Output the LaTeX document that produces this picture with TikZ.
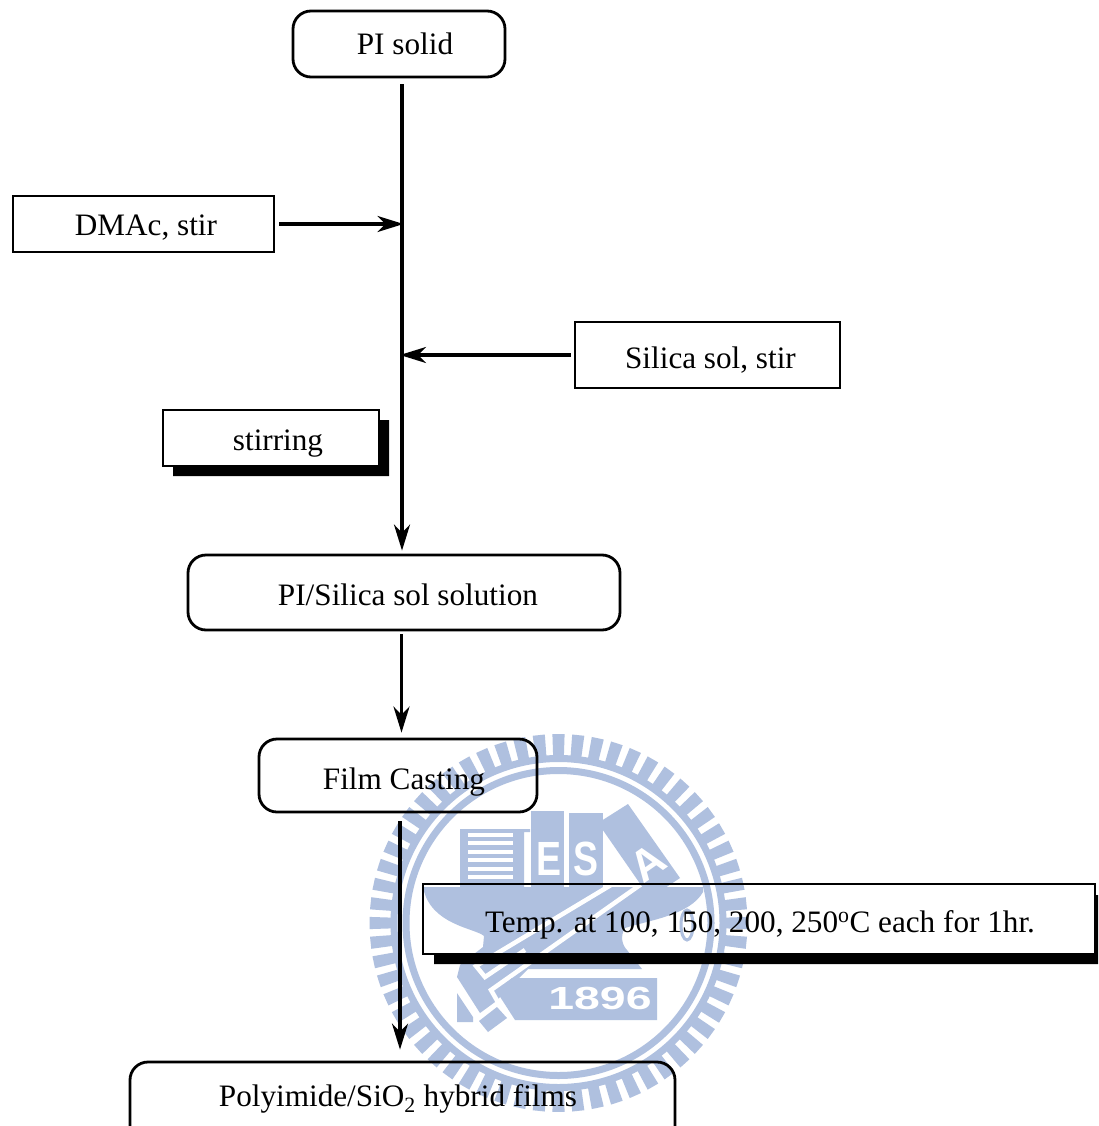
\documentclass[tikz,border=0pt]{standalone}
\usepackage{fontspec}
\setmainfont{Liberation Serif}
\newfontfamily\logofont{Liberation Sans}
\usetikzlibrary{arrows.meta,calc}
\definecolor{logoblue}{RGB}{175,192,223}
\tikzset{
  sqbox/.style={draw=black,line width=2.8pt,fill=none,inner sep=0pt,font=\fontsize{31.2}{36}\selectfont},
  rdbox/.style={sqbox,rounded corners=18pt},
  drop/.style={text height=2*#1 pt,text depth=0pt},
  flow/.style={draw=black,line width=3.1pt,-{Stealth[length=26pt,width=16pt,inset=8pt]}},
  logotext/.style={text=white,font=\logofont\bfseries,inner sep=0pt},
}
\begin{document}
\begin{tikzpicture}[x=1pt,y=-1pt]
\clip (0,0) rectangle (1098,1126);
\fill[white] (0,0) rectangle (1098,1126);
% watermark
\begin{scope}[logoblue]
 \begin{scope}[shift={(558.5,923)}]
  \foreach \a in {0,6,...,354}{
   \fill (\a-1.85:166) -- (\a-1.85:189) -- (\a+1.85:189) -- (\a+1.85:166) -- cycle;
  }
  \draw[line width=7pt] (0,0) circle [radius=164.5];
  \draw[line width=7pt] (0,0) circle [radius=152.5];
 \end{scope}
 % anvil and hammer
 \fill (423,887) -- (703,887) -- (703,892) .. controls (690,915) and (650,920) .. (625,928)
   .. controls (620,936) and (622,945) .. (627,950) -- (642,969) -- (528,969) -- (495,1002) -- (480,1013)
   -- (457,977) -- (460,965) -- (483,947) -- (484,936)
   .. controls (475,928) and (430,925) .. (423,887) -- cycle;
 \draw[white,line width=4.5pt] (611,885) -- (476,966) -- (485,977) -- (525,950);
 \draw[white,line width=4.5pt] (640,885) -- (491,990) -- (499,1004);
 % books
 \fill (460,829) -- (530,829) -- (530,832) -- (524,832) -- (524,887) -- (460,887) -- cycle;
 \fill (531,811) rectangle (564,887);
 \fill (569,813) rectangle (603,887);
 \fill (628,804) -- (680,878) -- (650,898) -- (598,823) -- cycle;
 \foreach \yy in {833,841,850,858,867,875}{
  \fill[white] (468,\yy) rectangle (513,\yy+4);
 }
 % banner and block
 \fill (512,978) -- (657,978) -- (657,1020) -- (515,1020) -- (497,992) -- cycle;
 \fill (479,1021) -- (488,1032) -- (507,1018) -- (497,1007) -- cycle;
 \fill (457,993) -- (473,1017) -- (473,1022) -- (457,1022) -- cycle;
 \draw[line width=3pt] (687,925) ellipse [x radius=6,y radius=15];
\end{scope}
\node[logotext,xscale=.78] (letterE) at (548.5,858.5) {\fontsize{48}{48}\selectfont E};
\node[logotext,xscale=.78] (letterS) at (585.5,858.5) {\fontsize{48}{48}\selectfont S};
\node[logotext,rotate=35] (letterA) at (648,863) {\fontsize{44}{44}\selectfont A};
\node[logotext,xscale=1.45] (year) at (600,998) {\fontsize{32}{32}\selectfont 1896};
% shadows
\fill[black] (173,466) -- (379,466) -- (379,420) -- (389,420) -- (389,476) -- (173,476) -- cycle;
\fill[black] (434,954) -- (1095,954) -- (1095,895) -- (1098,895) -- (1098,964) -- (434,964) -- cycle;
% boxes
\node[rdbox,drop=11,minimum width=212pt,minimum height=66pt] (pi) at (399,44) {\hspace*{12pt}PI solid};
\node[sqbox,drop=11,minimum width=261pt,minimum height=56pt] (dmac) at (143.5,224) {\hspace*{5pt}DMAc, stir};
\node[sqbox,drop=13,minimum width=265pt,minimum height=66pt] (silica) at (707.5,355) {\hspace*{6pt}Silica sol, stir};
\node[sqbox,drop=12,minimum width=216pt,minimum height=56pt] (stir) at (271,438) {\hspace*{14pt}stirring};
\node[rdbox,drop=12.5,minimum width=432pt,minimum height=75pt] (sol) at (404,592.5) {\hspace*{8pt}PI/Silica sol solution};
\node[rdbox,drop=14,minimum width=278pt,minimum height=73pt] (film) at (398,775.5) {\hspace*{12pt}Film Casting};
\node[sqbox,drop=13,minimum width=672pt,minimum height=70pt] (temp) at (759,919) {\hspace*{2pt}Temp. at 100, 150, 200, 250\textsuperscript{o}C each for 1hr.};
\node[rdbox,minimum width=545pt,minimum height=100pt] (poly) at (402.5,1112) {};
\node[font=\fontsize{31.2}{36}\selectfont,inner sep=0pt] (polytext) at (398,1099) {Polyimide/SiO\textsubscript{2} hybrid films};
% connectors
\coordinate (trunk) at (402,300);
\coordinate (lower) at (401.5,680);
\coordinate (last) at (400,950);
\draw[flow,shorten <=6pt,shorten >=3pt] (pi.south -| trunk) -- (sol.north -| trunk);
\draw[flow,shorten <=4pt,shorten >=-1.5pt] (dmac.east) -- (dmac.east -| trunk);
\draw[flow,shorten <=3pt,shorten >=-2pt] (silica.west) -- (silica.west -| trunk);
\draw[flow,shorten <=3pt,shorten >=5pt] (sol.south -| lower) -- (film.north -| lower);
\draw[flow,shorten <=8pt,shorten >=11pt] (film.south -| last) -- (poly.north -| last);
\end{tikzpicture}
\end{document}
